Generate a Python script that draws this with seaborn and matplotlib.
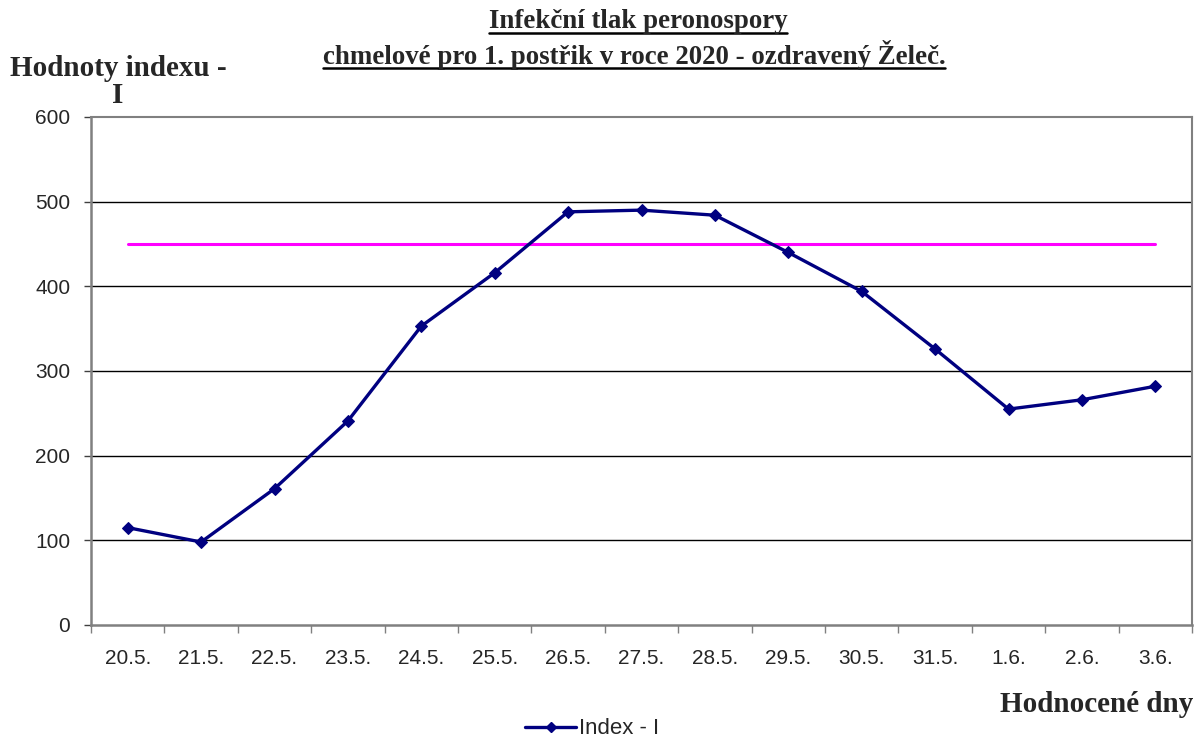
import matplotlib
matplotlib.use("Agg")
import matplotlib.pyplot as plt
from matplotlib.lines import Line2D
import seaborn as sns
import pandas as pd
import numpy as np

# Evaluated days and infection-pressure index values
days = ["20.5.", "21.5.", "22.5.", "23.5.", "24.5.", "25.5.", "26.5.", "27.5.",
        "28.5.", "29.5.", "30.5.", "31.5.", "1.6.", "2.6.", "3.6."]
index_values = [115, 98, 161, 241, 353, 416, 488, 490, 484, 440, 394, 326, 255, 266, 282]
threshold_values = [450] * len(days)
y_ticks = [0, 100, 200, 300, 400, 500, 600]

sns.set_theme(style="white")
plt.rcParams["font.family"] = ["Liberation Sans", "DejaVu Sans"]

df = pd.DataFrame({"pos": np.arange(len(days)), "den": days,
                   "index": index_values, "limit": threshold_values})

fig = plt.figure(figsize=(11.96, 7.38), dpi=100)
ax = fig.add_axes([91 / 1196, 1 - 625 / 738, (1192 - 91) / 1196, (625 - 117) / 738])

for yv in y_ticks[1:-1]:
    ax.axhline(yv, color="black", lw=1.0, zorder=1)

sns.lineplot(data=df, x="pos", y="limit", ax=ax, color="#FF00FF", lw=2.2,
             zorder=2, legend=False)
sns.lineplot(data=df, x="pos", y="index", ax=ax, color="#000080", lw=2.4,
             marker="D", markersize=6.5, markeredgecolor="#000080",
             zorder=3, legend=False)

ax.set_xlim(-0.5, len(days) - 0.5)
ax.set_ylim(0, 600)
ax.set_yticks(y_ticks)
ax.set_yticklabels([str(v) for v in y_ticks], fontsize=15)
ax.set_xticks(np.arange(-0.5, len(days), 1.0))
ax.set_xticklabels([])
ax.set_xticks(np.arange(len(days)), minor=True)
ax.set_xticklabels(days, minor=True, fontsize=15)
ax.tick_params(axis="x", which="major", direction="out", length=6, width=1,
               color="#808080", bottom=True)
ax.tick_params(axis="x", which="minor", length=0, pad=17, bottom=True)
ax.tick_params(axis="y", direction="out", length=5, width=1, color="#404040",
               pad=10, left=True)
ax.set_xlabel("")
ax.set_ylabel("")
for side, sp in ax.spines.items():
    sp.set_visible(True)
    sp.set_color("#808080")
    sp.set_linewidth(1.8 if side in ("left", "bottom") else 1.5)

serif = ["Liberation Serif", "DejaVu Serif"]


def underlined(x, y, text, **kw):
    t = fig.text(x, y, text, **kw)
    fig.canvas.draw()
    bb = t.get_window_extent()
    W, H = fig.get_size_inches() * fig.dpi
    yline = (bb.y0 + 2) / H
    fig.add_artist(Line2D([bb.x0 / W, bb.x1 / W], [yline, yline],
                          color="black", lw=1.8))
    return t


underlined(638 / 1196, 1 - 22 / 738, "Infekční tlak peronospory",
           ha="center", va="center", fontsize=19.4, fontweight="bold", family=serif)
underlined(634 / 1196, 1 - 55 / 738,
           "chmelové pro 1. postřik v roce 2020 - ozdravený Želeč.",
           ha="center", va="center", fontsize=19.4, fontweight="bold", family=serif)

fig.text(118 / 1196, 1 - 82 / 738, "Hodnoty indexu -\nI", ha="center",
         va="center", fontsize=21, fontweight="bold", family=serif, linespacing=1.0)
fig.text(1193 / 1196, 1 - 705 / 738, "Hodnocené dny", ha="right", va="center",
         fontsize=21, fontweight="bold", family=serif)

handle = Line2D([], [], color="#000080", lw=2.4, marker="D", markersize=5)
fig.legend([handle], ["Index - I"], loc="center", bbox_to_anchor=(592 / 1196, 1 - 729 / 738),
           frameon=False, fontsize=16, handlelength=2.3, handletextpad=0.1,
           borderpad=0.0)

fig.savefig("out.png", dpi=100)
